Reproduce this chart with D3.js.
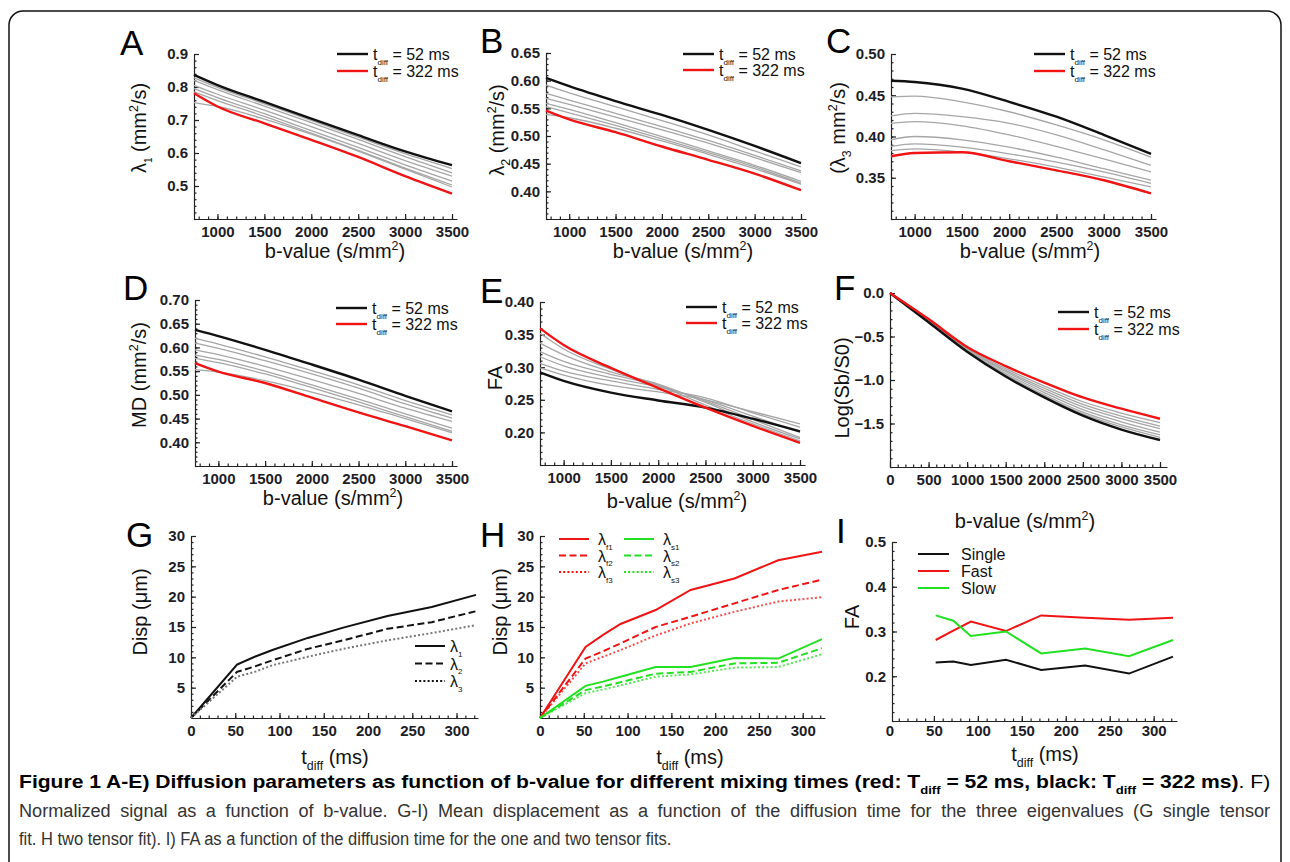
<!DOCTYPE html>
<html>
<head>
<meta charset="utf-8">
<script src="https://cdn.jsdelivr.net/npm/d3@7"></script>
<style>
body { margin: 0; background: #fff; }
svg text { font-family: "Liberation Sans", Arial, sans-serif; }
.axis text { font-size: 15px; font-weight: bold; fill: #1d1d28; }
.axis path, .axis line, .minor line { stroke: #222; stroke-width: 1.2; }
.ttl { font-size: 20px; fill: #111; }
.leg { font-size: 16px; fill: #111; }
.cap { font-size: 19px; }
</style>
</head>
<body>
<svg id="fig" width="1290" height="862"></svg>
<script>
// ---- data ----
// b-values (s/mm^2) for panels A-E and F
var bVals = [750, 1000, 1500, 2000, 2500, 3000, 3500];
var bValsF = [0, 500, 1000, 1500, 2000, 2500, 3000, 3500];
// diffusion times (ms)
var tdiff = [0, 52, 72, 92, 132, 172, 222, 272, 322];
var tdiffI = [52, 72, 92, 132, 172, 222, 272, 322];

// panels A-F: first row = 52 ms (black), last row = 322 ms (red), rest grey
var lambda1 = [
  [0.837, 0.806, 0.755, 0.704, 0.654, 0.605, 0.563],
  [0.828, 0.799, 0.749, 0.699, 0.648, 0.598, 0.553],
  [0.820, 0.792, 0.742, 0.692, 0.641, 0.589, 0.540],
  [0.805, 0.778, 0.730, 0.680, 0.629, 0.577, 0.530],
  [0.795, 0.768, 0.719, 0.668, 0.617, 0.564, 0.515],
  [0.785, 0.759, 0.711, 0.660, 0.608, 0.554, 0.503],
  [0.753, 0.741, 0.703, 0.657, 0.606, 0.551, 0.497],
  [0.781, 0.741, 0.690, 0.640, 0.588, 0.530, 0.477]
];
var lambda2 = [
  [0.605, 0.590, 0.563, 0.538, 0.511, 0.482, 0.451],
  [0.592, 0.578, 0.553, 0.528, 0.502, 0.473, 0.444],
  [0.577, 0.565, 0.541, 0.517, 0.492, 0.465, 0.437],
  [0.568, 0.557, 0.534, 0.511, 0.487, 0.461, 0.434],
  [0.559, 0.548, 0.524, 0.499, 0.473, 0.447, 0.418],
  [0.553, 0.542, 0.519, 0.495, 0.470, 0.444, 0.415],
  [0.539, 0.533, 0.514, 0.491, 0.467, 0.441, 0.413],
  [0.546, 0.530, 0.507, 0.481, 0.457, 0.432, 0.402]
];
var lambda3 = [
  [0.4675, 0.466, 0.458, 0.442, 0.424, 0.402, 0.379],
  [0.448, 0.449, 0.442, 0.430, 0.414, 0.396, 0.375],
  [0.425, 0.428, 0.424, 0.416, 0.402, 0.384, 0.365],
  [0.416, 0.418, 0.413, 0.402, 0.388, 0.373, 0.357],
  [0.396, 0.400, 0.396, 0.387, 0.375, 0.361, 0.347],
  [0.388, 0.391, 0.387, 0.379, 0.369, 0.357, 0.343],
  [0.383, 0.385, 0.381, 0.373, 0.363, 0.351, 0.339],
  [0.376, 0.380, 0.381, 0.370, 0.359, 0.347, 0.331]
];
var md = [
  [0.637, 0.624, 0.595, 0.564, 0.532, 0.498, 0.465],
  [0.619, 0.607, 0.580, 0.551, 0.521, 0.488, 0.458],
  [0.609, 0.598, 0.572, 0.544, 0.514, 0.481, 0.451],
  [0.595, 0.585, 0.560, 0.532, 0.503, 0.472, 0.444],
  [0.584, 0.575, 0.550, 0.521, 0.491, 0.460, 0.430],
  [0.577, 0.568, 0.544, 0.515, 0.485, 0.454, 0.423],
  [0.553, 0.548, 0.530, 0.506, 0.479, 0.450, 0.420],
  [0.567, 0.549, 0.525, 0.494, 0.463, 0.434, 0.404]
];
var fa = [
  [0.292, 0.279, 0.261, 0.249, 0.238, 0.221, 0.2015],
  [0.299, 0.288, 0.272, 0.262, 0.250, 0.232, 0.213],
  [0.306, 0.294, 0.279, 0.266, 0.253, 0.230, 0.208],
  [0.316, 0.302, 0.284, 0.270, 0.250, 0.225, 0.200],
  [0.324, 0.309, 0.289, 0.272, 0.248, 0.220, 0.192],
  [0.337, 0.319, 0.293, 0.274, 0.246, 0.216, 0.190],
  [0.352, 0.328, 0.297, 0.272, 0.242, 0.213, 0.187],
  [0.3595, 0.334, 0.299, 0.268, 0.238, 0.210, 0.184]
];
var logS = [
  [0, -0.336, -0.675, -0.960, -1.200, -1.410, -1.570, -1.690],
  [0, -0.333, -0.671, -0.950, -1.185, -1.390, -1.540, -1.660],
  [0, -0.330, -0.666, -0.940, -1.170, -1.370, -1.515, -1.630],
  [0, -0.325, -0.660, -0.925, -1.145, -1.340, -1.480, -1.600],
  [0, -0.320, -0.652, -0.905, -1.120, -1.310, -1.445, -1.560],
  [0, -0.315, -0.645, -0.890, -1.095, -1.280, -1.415, -1.530],
  [0, -0.310, -0.635, -0.870, -1.070, -1.250, -1.380, -1.490],
  [0, -0.300, -0.620, -0.840, -1.030, -1.200, -1.330, -1.445]
];

// panel G: single tensor displacement (um)
var dispL1 = [0, 8.8, 10.1, 11.2, 13.2, 14.9, 16.8, 18.3, 20.3];
var dispL2 = [0, 7.6, 8.5, 9.5, 11.4, 12.8, 14.7, 15.8, 17.6];
var dispL3 = [0, 6.8, 7.6, 8.7, 10.1, 11.4, 12.8, 14.0, 15.3];
// panel H: two tensor fit, fast and slow compartments
var dispF1 = [0, 11.7, 13.7, 15.5, 17.8, 21.1, 23.0, 26.0, 27.4];
var dispF2 = [0, 9.8, 11.0, 12.3, 15.0, 16.7, 18.9, 21.1, 22.8];
var dispF3 = [0, 9.0, 10.1, 11.2, 13.6, 15.6, 17.5, 19.2, 19.9];
var dispS1 = [0, 5.3, 6.0, 6.8, 8.4, 8.4, 9.9, 9.8, 13.0];
var dispS2 = [0, 4.6, 5.2, 5.9, 7.3, 7.6, 9.0, 9.1, 11.5];
var dispS3 = [0, 4.1, 4.7, 5.4, 6.8, 7.2, 8.3, 8.4, 10.5];
// panel I: FA
var faSingle = [0.231, 0.233, 0.225, 0.237, 0.214, 0.224, 0.206, 0.244];
var faFast = [0.281, 0.302, 0.322, 0.301, 0.336, 0.331, 0.326, 0.331];
var faSlow = [0.336, 0.324, 0.290, 0.300, 0.251, 0.262, 0.245, 0.281];

// tick labels
var xTicksB = [1000, 1500, 2000, 2500, 3000, 3500];
var xTicksF = [0, 500, 1000, 1500, 2000, 2500, 3000, 3500];
var xTicksT = [0, 50, 100, 150, 200, 250, 300];
var yTicksA = [0.5, 0.6, 0.7, 0.8, 0.9];
var yTicksB = [0.40, 0.45, 0.50, 0.55, 0.60, 0.65];
var yTicksC = [0.35, 0.40, 0.45, 0.50];
var yTicksD = [0.40, 0.45, 0.50, 0.55, 0.60, 0.65, 0.70];
var yTicksE = [0.20, 0.25, 0.30, 0.35, 0.40];
var yTicksF = [-1.5, -1.0, -0.5, 0.0];
var yTicksG = [5, 10, 15, 20, 25, 30];
var yTicksI = [0.2, 0.3, 0.4, 0.5];

var RED = "#f01414", GREEN = "#22e022", GREY = "#a6a6a6";

var svg = d3.select("#fig");

// frame round the figure
svg.append("rect")
  .attr("x", 9).attr("y", 11).attr("width", 1272).attr("height", 880)
  .attr("rx", 14).attr("fill", "none").attr("stroke", "#111").attr("stroke-width", 1.5);

// text with sub / superscripts: parts = [[text, mode], ...]
function rich(t, parts, size) {
  var cur = 0;
  parts.forEach(function (p) {
    var mode = p[1] || "";
    var off = mode.indexOf("sub") >= 0 ? size * 0.3 : mode.indexOf("sup") >= 0 ? -size * 0.38 : 0;
    var ts = t.append("tspan").attr("dy", off - cur).text(p[0]);
    if (off !== 0) ts.attr("font-size", size * (mode.indexOf("tiny") >= 0 ? 0.5 : 0.62));
    if (mode.indexOf("b") === 0 || mode.indexOf("bold") >= 0) ts.attr("font-weight", "bold");
    cur = off;
  });
  return t;
}

function drawPanel(o) {
  var x = d3.scaleLinear().domain(o.xd).range([o.left, o.xe]);
  var xEnd = x.invert(o.xe + o.xpad);
  x.domain([o.xd[0], xEnd]).range([o.left, o.xe + o.xpad]);
  var y = d3.scaleLinear().domain(o.yd).range([o.bottom, o.top]);
  var g = svg.append("g");

  g.append("g").attr("class", "minor").attr("transform", "translate(0," + o.bottom + ")")
    .call(d3.axisBottom(x).tickValues(o.xm).tickSize(-2.5).tickSizeOuter(0).tickFormat(""))
    .call(function (s) { s.select(".domain").remove(); });
  g.append("g").attr("class", "minor").attr("transform", "translate(" + o.left + ",0)")
    .call(d3.axisLeft(y).tickValues(o.ym).tickSize(-2.5).tickSizeOuter(0).tickFormat(""))
    .call(function (s) { s.select(".domain").remove(); });

  g.append("g").attr("class", "axis").attr("transform", "translate(0," + o.bottom + ")")
    .call(d3.axisBottom(x).tickValues(o.xt).tickSize(-5).tickSizeOuter(0).tickPadding(o.xpadT || 7).tickFormat(o.xf || d3.format("d")));
  g.append("g").attr("class", "axis").attr("transform", "translate(" + o.left + ",0)")
    .call(d3.axisLeft(y).tickValues(o.yt).tickSize(-5).tickSizeOuter(0).tickPadding(6).tickFormat(o.yf));

  // panel letter
  g.append("text").attr("x", o.lx).attr("y", o.ly).attr("font-size", 35).attr("fill", "#000").text(o.letter);
  // x title
  rich(g.append("text").attr("class", "ttl").attr("text-anchor", "middle")
    .attr("x", o.xtx).attr("y", o.xty), o.xtitle, 20);
  // y title
  rich(g.append("text").attr("class", "ttl").attr("text-anchor", "middle")
    .attr("transform", "translate(" + o.ytx + "," + o.yty + ") rotate(-90)"), o.ytitle, 20);
  return { x: x, y: y, g: g };
}

function lines(p, xs, series, curve) {
  var line = d3.line()
    .x(function (d, i) { return p.x(xs[i]); })
    .y(function (d) { return p.y(d); })
    .curve(curve || d3.curveMonotoneX);
  // grey first, then black (52 ms) and red (322 ms)
  var order = d3.range(1, series.length - 1).concat([0, series.length - 1]);
  order.forEach(function (k) {
    var isBlack = k === 0, isRed = k === series.length - 1;
    p.g.append("path").attr("d", line(series[k])).attr("fill", "none")
      .attr("stroke", isBlack ? "#111" : isRed ? RED : GREY)
      .attr("stroke-width", isBlack || isRed ? 2.4 : 1.3);
  });
}

function tdLegend(p, x1, y1, dy) {
  [["52 ms", "#111"], ["322 ms", RED]].forEach(function (e, i) {
    var yy = y1 + i * dy;
    p.g.append("line").attr("x1", x1).attr("x2", x1 + 31).attr("y1", yy).attr("y2", yy)
      .attr("stroke", e[1]).attr("stroke-width", 2.4);
    rich(p.g.append("text").attr("class", "leg").attr("x", x1 + 36).attr("y", yy + 6),
      [["t"], ["diff", "sub tiny"], [" = " + e[0]]], 16);
  });
}

var fmt2 = d3.format(".2f"), fmt1 = d3.format(".1f");
var bTitle = [["b-value (s/mm"], ["2", "sup"], [")"]];
var tTitle = [["t"], ["diff", "sub"], [" (ms)"]];

function bPanel(o) {
  o.xd = [750, 3500]; o.xpad = 5;
  o.xt = xTicksB; o.xm = d3.range(800, 3600, 100);
  o.xtitle = bTitle;
  return drawPanel(o);
}

// ---- A ----
var pA = bPanel({ left: 194, xe: 452, top: 54, bottom: 219, yd: [0.4, 0.9], yt: yTicksA, ym: d3.range(0.4, 0.9, 0.02), yf: fmt1,
  letter: "A", lx: 120, ly: 55, xtx: 335, xty: 258, ytx: 146, yty: 128,
  ytitle: [["λ"], ["1", "sub tiny"], [" (mm"], ["2", "sup"], ["/s)"]] });
lines(pA, bVals, lambda1);
tdLegend(pA, 337, 54, 17);

// ---- B ----
var pB = bPanel({ left: 546, xe: 801, top: 53, bottom: 219, yd: [0.35, 0.65], yt: yTicksB, ym: d3.range(0.35, 0.65, 0.01), yf: fmt2,
  letter: "B", lx: 480, ly: 53, xtx: 683, xty: 258, ytx: 504, yty: 130,
  ytitle: [["λ"], ["2", "sub"], [" (mm"], ["2", "sup"], ["/s)"]] });
lines(pB, bVals, lambda2);
tdLegend(pB, 683, 54, 16);

// ---- C ----
var pC = bPanel({ left: 891, xe: 1151, top: 54, bottom: 219, yd: [0.30, 0.50], yt: yTicksC, ym: d3.range(0.30, 0.50, 0.01), yf: fmt2,
  letter: "C", lx: 826, ly: 53, xtx: 1030, xty: 258, ytx: 845, yty: 128,
  ytitle: [["(λ"], ["3", "sub"], [" mm"], ["2", "sup"], ["/s)"]] });
lines(pC, bVals, lambda3);
tdLegend(pC, 1034, 54, 17);

// ---- D ----
var pD = bPanel({ left: 195, xe: 452, top: 300, bottom: 466, yd: [0.35, 0.70], yt: yTicksD, ym: d3.range(0.35, 0.70, 0.01), yf: fmt2,
  letter: "D", lx: 123, ly: 300, xtx: 333, xty: 505, ytx: 146, yty: 375,
  ytitle: [["MD (mm"], ["2", "sup"], ["/s)"]] });
lines(pD, bVals, md);
tdLegend(pD, 336, 308, 16);

// ---- E ----
var pE = bPanel({ left: 540, xe: 800, top: 302, bottom: 465, yd: [0.15, 0.40], yt: yTicksE, ym: d3.range(0.15, 0.40, 0.01), yf: fmt2,
  letter: "E", lx: 480, ly: 303, xtx: 677, xty: 508, ytx: 502, yty: 378,
  ytitle: [["FA"]] });
lines(pE, bVals, fa);
tdLegend(pE, 686, 307, 16);

// ---- F ----
var pF = drawPanel({ left: 890, xe: 1160, xpad: 7, xd: [0, 3500], top: 293, bottom: 467, yd: [-2.0, 0.0],
  xt: xTicksF, xm: d3.range(100, 3600, 100), yt: yTicksF, ym: d3.range(-2.0, 0.0, 0.1), yf: fmt1,
  letter: "F", lx: 834, ly: 300, xtx: 1025, xty: 528, ytx: 849, yty: 388,
  xtitle: bTitle, ytitle: [["Log(Sb/S0)"]] });
lines(pF, bValsF, logS);
tdLegend(pF, 1058, 312, 17);

// ---- G ----
var pG = drawPanel({ left: 191, xe: 476, xpad: 2, xd: [0, 322], top: 536, bottom: 718, yd: [0, 30],
  xt: xTicksT, xm: d3.range(10, 330, 10), yt: yTicksG, ym: d3.range(1, 30, 1), yf: d3.format("d"),
  letter: "G", lx: 126, ly: 547, xtx: 335, xty: 764, ytx: 147, yty: 612,
  xtitle: tTitle, ytitle: [["Disp (μm)"]] });
var lineT = function (p) {
  return d3.line().x(function (d, i) { return p.x(tdiff[i]); }).y(function (d) { return p.y(d); });
};
var dashes = ["", "7,3.5", "2,2.2"];
[dispL1, dispL2, dispL3].forEach(function (s, i) {
  pG.g.append("path").attr("d", lineT(pG)(s)).attr("fill", "none")
    .attr("stroke", i === 2 ? "#777" : "#111").attr("stroke-width", 2).attr("stroke-dasharray", dashes[i]);
  var yy = 646 + i * 17.5;
  pG.g.append("line").attr("x1", 415).attr("x2", 445).attr("y1", yy).attr("y2", yy)
    .attr("stroke", "#111").attr("stroke-width", 2).attr("stroke-dasharray", dashes[i]);
  rich(pG.g.append("text").attr("class", "leg").attr("x", 450).attr("y", yy + 6),
    [["λ"], [String(i + 1), "sub tiny"]], 16);
});

// ---- H ----
var pH = drawPanel({ left: 540, xe: 822, xpad: 3, xd: [0, 322], top: 536, bottom: 718, yd: [0, 30],
  xt: xTicksT, xm: d3.range(10, 330, 10), yt: yTicksG, ym: d3.range(1, 30, 1), yf: d3.format("d"),
  letter: "H", lx: 480, ly: 547, xtx: 690, xty: 764, ytx: 507, yty: 612,
  xtitle: tTitle, ytitle: [["Disp (μm)"]] });
[[dispF1, dispF2, dispF3, RED, "f", 559], [dispS1, dispS2, dispS3, GREEN, "s", 624]].forEach(function (grp) {
  [0, 1, 2].forEach(function (i) {
    pH.g.append("path").attr("d", lineT(pH)(grp[i])).attr("fill", "none")
      .attr("stroke", grp[3]).attr("stroke-width", 2).attr("stroke-dasharray", dashes[i])
      .attr("opacity", i === 2 ? 0.75 : 1);
    var yy = 539 + i * 16.5;
    pH.g.append("line").attr("x1", grp[5]).attr("x2", grp[5] + 30).attr("y1", yy).attr("y2", yy)
      .attr("stroke", grp[3]).attr("stroke-width", 2).attr("stroke-dasharray", dashes[i]);
    rich(pH.g.append("text").attr("class", "leg").attr("x", grp[5] + 39).attr("y", yy + 6),
      [["λ"], [grp[4] + (i + 1), "sub tiny"]], 16);
  });
});

// ---- I ----
var pI = drawPanel({ left: 892, xe: 1173, xpad: 4, xd: [2.3, 322], top: 542, bottom: 721, yd: [0.1, 0.5],
  xt: xTicksT.slice(1), xm: d3.range(10, 330, 10), yt: yTicksI, ym: d3.range(0.1, 0.5, 0.02), yf: fmt1, xpadT: 4,
  letter: "I", lx: 836, ly: 543, xtx: 1045, xty: 761, ytx: 859, yty: 617,
  xtitle: tTitle, ytitle: [["FA"]] });
pI.g.append("text").attr("x", 890).attr("y", 736).attr("text-anchor", "middle")
  .attr("font-size", 15).attr("font-weight", "bold").attr("fill", "#1d1d28").text("0");
var lineI = d3.line().x(function (d, i) { return pI.x(tdiffI[i]); }).y(function (d) { return pI.y(d); });
[["Single", faSingle, "#111"], ["Fast", faFast, RED], ["Slow", faSlow, GREEN]].forEach(function (e, i) {
  pI.g.append("path").attr("d", lineI(e[1])).attr("fill", "none").attr("stroke", e[2]).attr("stroke-width", 2);
  var yy = 554 + i * 17;
  pI.g.append("line").attr("x1", 918).attr("x2", 949).attr("y1", yy).attr("y2", yy)
    .attr("stroke", e[2]).attr("stroke-width", 2);
  pI.g.append("text").attr("class", "leg").attr("x", 961).attr("y", yy + 6).text(e[0]);
});

// ---- caption: condensed look (glyphs squeezed); line 2 justified ----
var capFont = '"Liberation Sans Narrow", "DejaVu Sans Condensed", "Liberation Sans", sans-serif';
function capLine(parts, fill) {
  var t = svg.append("text").attr("class", "cap").attr("font-family", capFont).attr("fill", fill);
  rich(t, parts, 19);
  return t;
}
var cap3 = capLine([["fit. H two tensor fit). I) FA as a function of the diffusion time for the one and two tensor fits."]], "#333");
var squeeze = 653 / cap3.node().getComputedTextLength();
cap3.attr("transform", "translate(19,845) scale(" + squeeze + ",1)");

var cap2 = capLine([["Normalized signal as a function of b-value. G-I) Mean displacement as a function of the diffusion time for the three eigenvalues (G single tensor"]], "#333");
var nat2 = cap2.node().getComputedTextLength();
var gaps2 = cap2.text().split(" ").length - 1;
var squeeze2 = (squeeze + 1252 / nat2) / 2;
cap2.attr("transform", "translate(19,817) scale(" + squeeze2 + ",1)")
  .style("word-spacing", ((1252 / squeeze2 - nat2) / gaps2) + "px");

var cap1 = capLine([["Figure 1 A-E) Diffusion parameters as function of b-value for different mixing times (red: T", "b"],
  ["diff", "sub bold"], [" = 52 ms, black: T", "b"], ["diff", "sub bold"], [" = 322 ms)", "b"], [". F)"]], "#000");
var squeeze1 = 1252 / cap1.node().getComputedTextLength();
cap1.attr("transform", "translate(19,788) scale(" + squeeze1 + ",1)");
</script>
</body>
</html>
